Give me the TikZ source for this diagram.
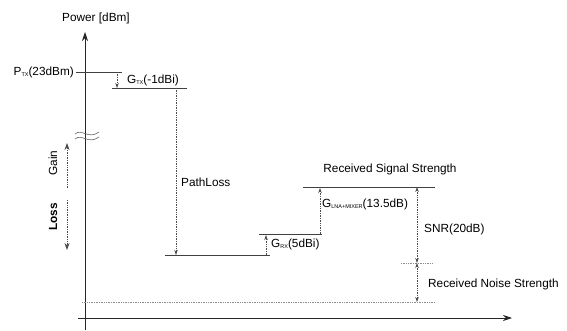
\documentclass[tikz,border=0pt]{standalone}
\usepackage{fontspec}
\setmainfont{Liberation Sans}
\usetikzlibrary{arrows.meta}
\newcommand\lowsub[1]{\raisebox{-0.3ex}{\fontsize{5.5}{6}\selectfont #1}}
\begin{document}
\begin{tikzpicture}[x=1pt,y=-1pt,
  lbl/.style={inner sep=0pt,font=\fontsize{11.8}{13}\selectfont,text=black},
  level/.style={draw=black!75,line width=0.7pt},
  vline/.style={draw=black!70,densely dotted,line width=0.7pt},
  floor/.style={draw=black!45,densely dotted,line width=0.7pt},
  tip/.style={-{Stealth[length=5pt,width=3.5pt]}},
  tips/.style={{Stealth[length=5pt,width=3.5pt]}-{Stealth[length=5pt,width=3.5pt]}},
  bigtip/.style={-{Stealth[length=7pt,width=5pt]}},
  axis/.style={draw=black!85,line width=0.8pt,-{Stealth[length=9pt,width=6pt]}}]
\useasboundingbox (0,0) rectangle (567,331);
% axes
\coordinate (yb) at (85,330); \coordinate (yt) at (85,32);
\coordinate (xl) at (78,318); \coordinate (xr) at (512,318);
\draw[axis] (yb) -- (yt);
\draw[axis] (xl) -- (xr);
\node[lbl] (power) at (96,18) {Power [dBm]};
% axis break
\draw[black!60,line width=0.6pt] (75,134) .. controls (82,128) and (88,140) .. (99,132);
\draw[black!60,line width=0.6pt] (75,139) .. controls (82,133) and (88,145) .. (99,137);
% Gain / Loss
\coordinate (ga) at (67,188); \coordinate (gb) at (67,143);
\coordinate (la) at (67,200); \coordinate (lb) at (67,250);
\draw[vline,bigtip] (ga) -- (gb);
\draw[vline,bigtip] (la) -- (lb);
\node[lbl,rotate=90] (gain) at (53,163) {Gain};
\node[lbl,rotate=90] (loss) at (53,217) {\bfseries Loss};
% PTx level
\coordinate (p1) at (76,72); \coordinate (p2) at (122,72);
\draw[level] (p1) -- (p2);
\node[lbl,anchor=east] (ptx) at (74,72) {P\lowsub{TX}(23dBm)};
% GTx
\coordinate (gt1) at (117,72); \coordinate (gt2) at (117,88);
\draw[vline,tip] (gt1) -- (gt2);
\coordinate (t1) at (112,88); \coordinate (t2) at (187,88);
\draw[level] (t1) -- (t2);
\node[lbl,anchor=west] (gtx) at (127,80) {G\lowsub{TX}(-1dBi)};
% PathLoss
\coordinate (pl1) at (176,88); \coordinate (pl2) at (176,255);
\draw[vline,tip] (pl1) -- (pl2);
\node[lbl,anchor=west] (pathloss) at (181,182) {PathLoss};
% Rx level
\coordinate (r1) at (165,255); \coordinate (r2) at (270,255);
\draw[level] (r1) -- (r2);
% GRx
\coordinate (gr1) at (266,255); \coordinate (gr2) at (266,235);
\draw[vline,tip] (gr1) -- (gr2);
\coordinate (g1) at (259,234); \coordinate (g2) at (322,234);
\draw[level] (g1) -- (g2);
\node[lbl,anchor=west] (grx) at (271,244) {G\lowsub{RX}(5dBi)};
% LNA+Mixer
\coordinate (ln1) at (320,234); \coordinate (ln2) at (320,188);
\draw[vline,tip] (ln1) -- (ln2);
\coordinate (s1) at (303,187); \coordinate (s2) at (435,187);
\draw[level] (s1) -- (s2);
\node[lbl,anchor=west] (glna) at (322,204) {G\lowsub{LNA+MIXER}(13.5dB)};
\node[lbl] (rss) at (390,169) {Received Signal Strength};
% SNR
\coordinate (sn1) at (417,187); \coordinate (sn2) at (417,263);
\draw[vline,tips] (sn1) -- (sn2);
\node[lbl,anchor=west] (snr) at (424,229) {SNR(20dB)};
% noise level
\coordinate (n1) at (401,263); \coordinate (n2) at (432,263);
\draw[floor] (n1) -- (n2);
\coordinate (nz) at (417,302);
\draw[vline,tips] (sn2) -- (nz);
\node[lbl,anchor=west] (rns) at (428,284) {Received Noise Strength};
% floor
\coordinate (f1) at (82,302); \coordinate (f2) at (435,302);
\draw[floor] (f1) -- (f2);
\end{tikzpicture}
\end{document}
